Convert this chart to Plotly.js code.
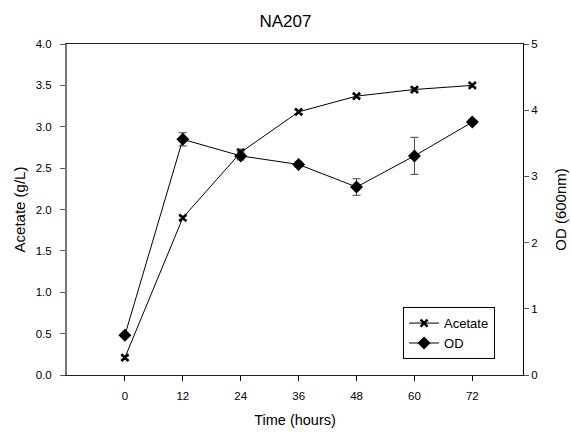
<!DOCTYPE html>
<html><head><meta charset="utf-8">
<script src="https://cdn.plot.ly/plotly-3.0.1.min.js"></script>
<style>html,body{margin:0;padding:0;background:#fff}</style>
</head><body><div id="chart" style="width:571px;height:432px"></div>
<script>
var hours = [0, 12, 24, 36, 48, 60, 72];
var acetate = [0.21, 1.90, 2.69, 3.18, 3.37, 3.45, 3.50];
var acetateErr = [0.02, 0.02, 0.04, 0.02, 0.02, 0.02, 0.02];
var od = [0.60, 3.56, 3.31, 3.18, 2.84, 3.31, 3.82];
var odErr = [0.02, 0.10, 0.06, 0.04, 0.125, 0.28, 0.03];
var xTicks = [0, 12, 24, 36, 48, 60, 72];

var F = 'Arial, "Liberation Sans", sans-serif';
var traces = [
  {x: hours, y: acetate, name: 'Acetate', type: 'scatter', mode: 'lines+markers',
   line: {color: '#000', width: 1},
   marker: {symbol: 'x-thin-open', size: 7, color: '#000', line: {width: 2.5, color: '#000'}},
   error_y: {type: 'data', array: acetateErr, visible: true, color: '#444', thickness: 1, width: 4}},
  {x: hours, y: od, name: 'OD', type: 'scatter', mode: 'lines+markers', yaxis: 'y2',
   line: {color: '#000', width: 1},
   marker: {symbol: 'diamond', size: 10, color: '#000'},
   error_y: {type: 'data', array: odErr, visible: true, color: '#444', thickness: 1, width: 4}}
];
var layout = {
  width: 571, height: 432,
  margin: {l: 67, r: 48, t: 44, b: 57},
  paper_bgcolor: '#fff', plot_bgcolor: '#fff',
  font: {family: F, size: 11.5, color: '#000'},
  title: {text: 'NA207', font: {family: F, size: 17, color: '#000'}, x: 0.5, xanchor: 'center', y: 0.951, yanchor: 'middle'},
  showlegend: true,
  legend: {x: 0.737, y: 0.205, xanchor: 'left', yanchor: 'top', bordercolor: '#000', borderwidth: 1,
           bgcolor: '#fff', font: {family: F, size: 13}, tracegroupgap: 0, itemwidth: 30,
           entrywidth: 98, entrywidthmode: 'pixels'},
  xaxis: {range: [-12, 82.5], tickvals: xTicks, ticktext: xTicks.map(String),
          ticks: 'outside', ticklen: 5, tickcolor: '#000', ticklabelstandoff: 5,
          showline: true, linecolor: '#222', linewidth: 1,
          mirror: true, showgrid: false, zeroline: false,
          title: {text: 'Time (hours)', font: {family: F, size: 14.5}, standoff: 14}},
  yaxis: {range: [0, 4], dtick: 0.5, tickformat: '.1f', ticks: 'outside', ticklen: 5, tickcolor: '#555',
          ticklabelstandoff: 6,
          showline: true, linecolor: '#777', linewidth: 2, showgrid: false, zeroline: false,
          title: {text: 'Acetate (g/L)', font: {family: F, size: 15}, standoff: 6}},
  yaxis2: {range: [0, 5], dtick: 1, overlaying: 'y', side: 'right', ticks: 'outside', ticklen: 5, tickcolor: '#555',
           showline: true, linecolor: '#000', linewidth: 1, showgrid: false, zeroline: false,
           title: {text: 'OD (600nm)', font: {family: F, size: 15}, standoff: 18}}
};
Plotly.newPlot('chart', traces, layout, {displayModeBar: false, staticPlot: true});
</script></body></html>
